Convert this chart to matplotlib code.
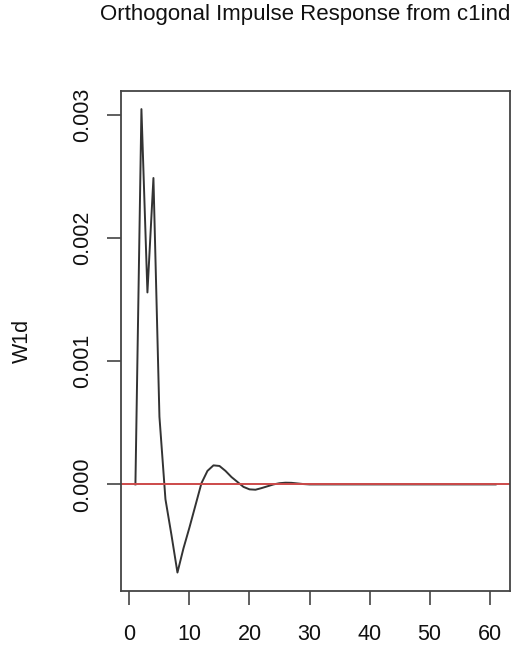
import numpy as np
import matplotlib
matplotlib.use("Agg")
from matplotlib import pyplot as plt

plt.rcParams['font.family'] = ['Liberation Sans', 'DejaVu Sans']

# orthogonal impulse response of W1d to a shock in c1ind, horizon 0..60
steps = list(range(1, 62))
response = [0.0, 0.00305, 0.00156, 0.00249, 0.00055, -0.00012, -0.00041, -0.000716,
            -0.00052, -0.00035, -0.00017, 0.00001, 0.00011, 0.000155, 0.00015,
            0.00011, 0.00006, 0.00002, -0.00002, -0.00004, -0.000043, -0.00003,
            -0.000015, 0.0, 0.00001, 0.000014, 0.000013, 0.000008, 0.000003, 0.0] \
           + [0.0] * 31
yticks = [0.000, 0.001, 0.002, 0.003]
xticks = [0, 10, 20, 30, 40, 50, 60]

fig = plt.figure(figsize=(5.31, 6.45), dpi=100)
ax = fig.add_axes([0.2279, 0.0836, 0.7326, 0.776])

ax.plot(steps, response, color='#333333', lw=1.4)
ax.axhline(0, color='#cc4a4a', lw=1.4)

# R style 4% padding
x0, x1 = min(steps), max(steps)
y0, y1 = min(response), max(response)
ax.set_xlim(x0 - 0.04 * (x1 - x0), x1 + 0.04 * (x1 - x0))
ax.set_ylim(y0 - 0.04 * (y1 - y0), y1 + 0.04 * (y1 - y0))

ax.set_xticks(xticks)
ax.set_yticks(yticks)
ax.set_yticklabels(['%.3f' % v for v in yticks], rotation=90, va='center')
ax.tick_params(axis='both', direction='out', length=10, width=1.2, color='#444444',
               labelsize=15.5, labelcolor='#111111')
ax.tick_params(axis='x', pad=14)
ax.tick_params(axis='y', pad=10)
for s in ax.spines.values():
    s.set_color('#444444')
    s.set_linewidth(1.3)

ax.set_ylabel('W1d', fontsize=15.5, labelpad=28, color='#111111')
fig.text(0.574, 0.977, 'Orthogonal Impulse Response from c1ind', ha='center', va='center',
         fontsize=16, color='#111111')

fig.savefig('out.png', dpi=100)
